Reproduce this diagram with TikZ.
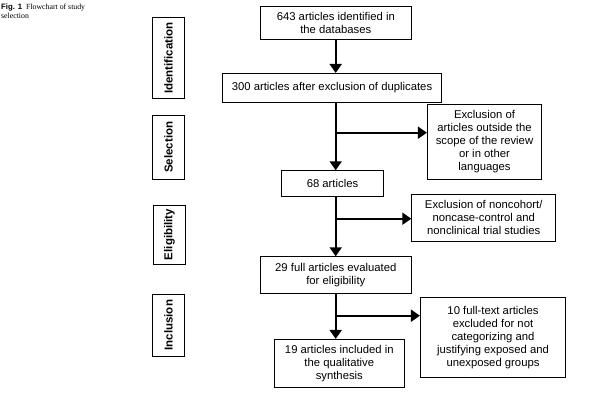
\documentclass[tikz,border=0pt]{standalone}
\usepackage{fontspec}
\setmainfont{Liberation Sans}
\newfontfamily\capserif{Liberation Serif}
\usepackage{tikz}
\usetikzlibrary{
  arrows.meta,
  positioning
}
\tikzset{
    flowbox/.style={rectangle, draw, line width=0.8pt, align=center, inner sep=1pt,
        font=\fontsize{11.3}{13}\selectfont},
    stagebox/.style={rectangle, draw, line width=0.8pt, rotate=90, inner sep=0pt,
        minimum height=31.6pt, font=\fontsize{11.5}{13}\selectfont\bfseries},
    flowarrow/.style={line width=2pt, -{Triangle[length=9pt,width=12pt]}},
}

\begin{document}
\begin{tikzpicture}[x=1pt, y=-1pt]
    \useasboundingbox (0,0) rectangle (600,408);
    % caption
    \node[anchor=north west, align=left, inner sep=0pt, font=\fontsize{7.8}{9}\selectfont] (caption) at (1,4)
        {{\bfseries Fig. 1}\enspace{\capserif Flowchart of study}\\{\capserif selection}};

    % stages on the left
    \node[stagebox, minimum width=81.4pt] (ident) at (168.5,58) {Identification};
    \node[stagebox, minimum width=64.3pt] (select) at (168.5,147.2) {Selection};
    \node[stagebox, minimum width=59pt] (elig) at (169.5,234.5) {Eligibility};
    \node[stagebox, minimum width=61.7pt] (incl) at (168.5,325.2) {Inclusion};

    % main column
    \node[flowbox, minimum width=151.7pt, minimum height=33.3pt] (found) at (335.8,22.7)
        {643 articles identified in\\the databases};
    \node[flowbox, minimum width=219.4pt, minimum height=28.7pt] (nodup) at (332,87.7)
        {300 articles after exclusion of duplicates};
    \node[flowbox, minimum width=101.6pt, minimum height=25.3pt] (kept) at (332.5,183.3)
        {68 articles};
    \node[flowbox, minimum width=151.7pt, minimum height=36.6pt] (fulltext) at (335.8,275)
        {29 full articles evaluated\\for eligibility};
    \node[flowbox, minimum width=130pt, minimum height=48pt] (included) at (339.3,363.3)
        {19 articles included in\\the qualitative\\synthesis};

    % exclusions
    \node[flowbox, minimum width=114.4pt, minimum height=75pt] (exscope) at (484.5,141.8)
        {Exclusion of\\articles outside the\\scope of the review\\or in other\\languages};
    \node[flowbox, minimum width=144pt, minimum height=46.7pt] (exdesign) at (483.7,217.7)
        {Exclusion of noncohort/\\noncase-control and\\nonclinical trial studies};
    \node[flowbox, minimum width=145.4pt, minimum height=80pt] (exgroups) at (493,337.3)
        {10 full-text articles\\excluded for not\\categorizing and\\justifying exposed and\\unexposed groups};

    % branch points
    \coordinate (split1) at (335.7,132.7);
    \coordinate (split2) at (335.7,218.7);
    \coordinate (split3) at (335.7,315.7);

    % arrows
    \draw[flowarrow] (found.south -| split1) -- (nodup.north -| split1);
    \draw[flowarrow] (nodup.south -| split1) -- (kept.north -| split1);
    \draw[flowarrow] (kept.south -| split2) -- (fulltext.north -| split2);
    \draw[flowarrow] (fulltext.south -| split3) -- (included.north -| split3);
    \draw[flowarrow] (split1) -- (split1 -| exscope.west);
    \draw[flowarrow] (split2) -- (split2 -| exdesign.west);
    \draw[flowarrow] (split3) -- (split3 -| exgroups.west);
\end{tikzpicture}
\end{document}
